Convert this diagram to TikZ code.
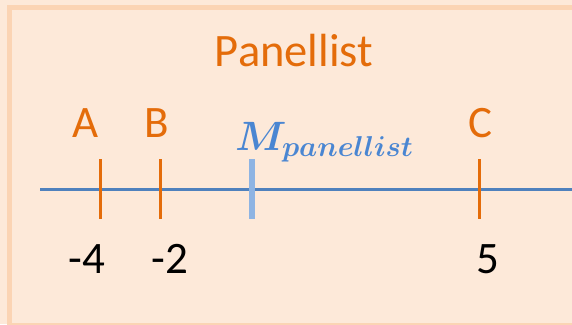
\RequirePackage{fix-cm}
\documentclass[tikz,border=0pt]{standalone}
\usepackage{fontspec}
\setmainfont{Carlito}
\definecolor{panelfill}{HTML}{FDE9D9}
\definecolor{panelrim}{HTML}{FBD4B4}
\definecolor{accentorange}{HTML}{E46C0A}
\definecolor{axisblue}{HTML}{4F81BD}
\definecolor{meanblue}{HTML}{8EB4E3}
\definecolor{meantext}{HTML}{4A86D2}
\newcommand{\meanlabel}{\ensuremath{M\sb{panellist}}}
\begin{document}
\begin{tikzpicture}[x=1pt,y=-1pt,
  lbl/.style={inner sep=0pt,anchor=base,font=\fontsize{45}{54}\selectfont},
  pointlbl/.style={lbl,text=accentorange},
  numlbl/.style={lbl,text=black},
  meanlbl/.style={inner sep=0pt,anchor=base west,text=meantext,
    font={\fontsize{41}{48}\selectfont\boldmath}},
  tickmark/.style={draw=accentorange,line width=2.8pt},
  meantick/.style={draw=meanblue,line width=5.5pt},
  axisline/.style={draw=axisblue,line width=3pt}]
\useasboundingbox (0,0) rectangle (572,324);
% panel background
\fill[panelfill] (0,0) rectangle (572,324);
\draw[panelrim,line width=5pt,fill=panelfill] (9.5,7.5) rectangle (590,325);
% title
\node[pointlbl,font=\fontsize{46.5}{54}\selectfont] (title) at (294,66.7) {Panellist};
% axis
\coordinate (axL) at (40,189.3);
\coordinate (axR) at (572,189.3);
\draw[axisline] (axL) -- (axR);
% tick ends
\coordinate (aT) at (100.3,159.3); \coordinate (aB) at (100.3,219.3);
\coordinate (bT) at (160.3,159.3); \coordinate (bB) at (160.3,219.3);
\coordinate (cT) at (479.3,159.3); \coordinate (cB) at (479.3,219.3);
\coordinate (mT) at (252,159.3);   \coordinate (mB) at (252,219.3);
\draw[tickmark] (aT) -- (aB);
\draw[tickmark] (bT) -- (bB);
\draw[tickmark] (cT) -- (cB);
\draw[meantick] (mT) -- (mB);
% point labels
\node[pointlbl] (labA) at (86,137.7) {A};
\node[pointlbl] (labB) at (157,137.7) {B};
\node[pointlbl] (labC) at (480,137.7) {C};
% values
\node[numlbl] (valA) at (87,273.5) {-4};
\node[numlbl] (valB) at (170,273.5) {-2};
\node[numlbl] (valC) at (488,273.5) {5};
% mean label
\node[meanlbl] (mean) at (235,150) {\meanlabel};
\end{tikzpicture}
\end{document}
